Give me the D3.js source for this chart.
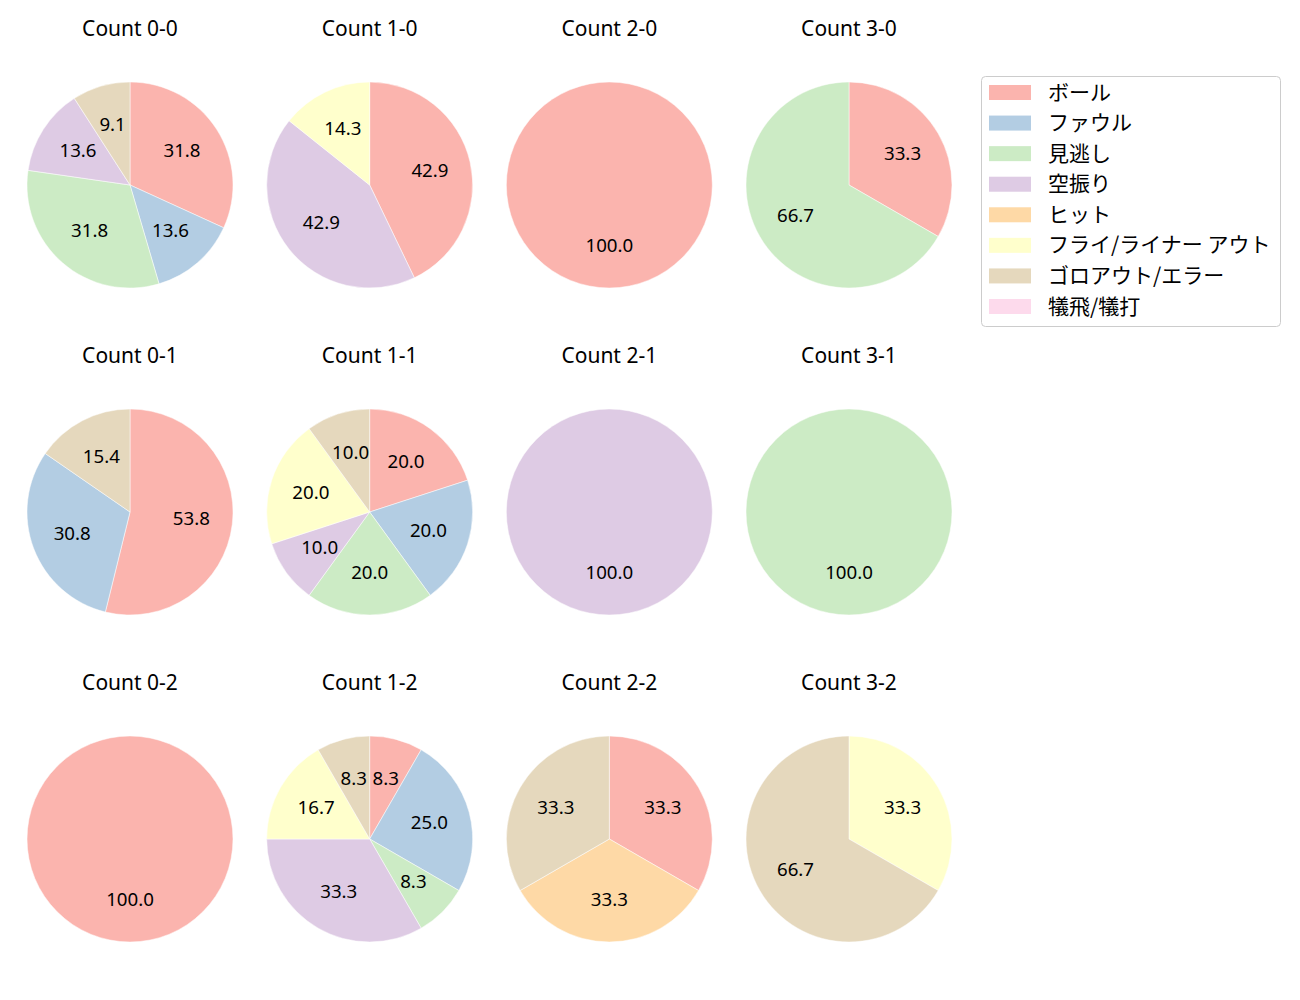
<!DOCTYPE html>
<html><head><meta charset="utf-8">
<script src="https://cdn.jsdelivr.net/npm/d3@7"></script>
<style>body{margin:0;background:#fff}svg{display:block}text{fill:#000}
.lat{font-family:"Noto Sans",sans-serif}.jp{font-family:"Noto Sans CJK JP","Noto Sans",sans-serif}</style>
</head><body><div id="chart"></div>
<script>
const categories = ["ボール","ファウル","見逃し","空振り","ヒット","フライ/ライナー アウト","ゴロアウト/エラー","犠飛/犠打"];
const colors = ["#fbb4ae","#b3cde3","#ccebc5","#decbe4","#fed9a6","#ffffcc","#e5d8bd","#fddaec"];
const titles = ["Count 0-0","Count 1-0","Count 2-0","Count 3-0","Count 0-1","Count 1-1","Count 2-1","Count 3-1","Count 0-2","Count 1-2","Count 2-2","Count 3-2"];
// counts per category (same order as categories)
const c00 = [7,3,7,3,0,0,2,0];
const c10 = [3,0,0,3,0,1,0,0];
const c20 = [1,0,0,0,0,0,0,0];
const c30 = [1,0,2,0,0,0,0,0];
const c01 = [7,4,0,0,0,0,2,0];
const c11 = [2,2,2,1,0,2,1,0];
const c21 = [0,0,0,1,0,0,0,0];
const c31 = [0,0,1,0,0,0,0,0];
const c02 = [1,0,0,0,0,0,0,0];
const c12 = [1,3,1,4,0,2,1,0];
const c22 = [1,0,0,0,1,0,1,0];
const c32 = [0,0,0,0,0,1,2,0];
const allCounts = [c00,c10,c20,c30,c01,c11,c21,c31,c02,c12,c22,c32];

const W=1300,H=1000;
const svg=d3.select("#chart").append("svg").attr("width",W).attr("height",H);
const colX=d3.scalePoint().domain([0,1,2,3]).range([130,849]);
const rowY=d3.scalePoint().domain([0,1,2]).range([185,839]);
const R=103;
const pie=d3.pie().sort(null).value(d=>d.v);
const arc=d3.arc().innerRadius(0).outerRadius(R);
const labelArc=d3.arc().innerRadius(R*0.6).outerRadius(R*0.6);

allCounts.forEach((counts,i)=>{
  const col=i%4,row=Math.floor(i/4);
  const cx=colX(col),cy=rowY(row);
  const total=d3.sum(counts);
  const data=counts.map((v,k)=>({v,k})).filter(d=>d.v>0);
  const g=svg.append("g").attr("transform",`translate(${cx},${cy})`);
  const arcs=pie(data);
  g.selectAll("path").data(arcs).join("path").attr("d",arc)
    .attr("fill",d=>colors[d.data.k]).attr("stroke","#fff").attr("stroke-width",0.5);
  g.selectAll("text.lbl").data(arcs).join("text").attr("class","lbl lat")
    .attr("transform",d=>`translate(${labelArc.centroid(d)})`)
    .attr("text-anchor","middle").attr("dy","0.3em")
    .style("font-size","18.7px")
    .text(d=>(d.data.v/total*100).toFixed(1));
  svg.append("text").attr("class","lat").attr("x",cx).attr("y",cy-149).attr("text-anchor","middle")
    .style("font-size","21px").text(titles[i]);
});

// legend
const lg=svg.append("g");
lg.append("rect").attr("x",981.5).attr("y",76.5).attr("width",299).attr("height",250)
  .attr("rx",4).attr("fill","#fff").attr("stroke","#cccccc");
const ly=d3.scalePoint().domain(d3.range(categories.length)).range([92,306]);
categories.forEach((c,k)=>{
  lg.append("rect").attr("x",989).attr("y",ly(k)-7).attr("width",42).attr("height",15).attr("fill",colors[k]);
  lg.append("text").attr("class","jp").attr("x",1048).attr("y",ly(k)-1.5).attr("dominant-baseline","central")
    .style("font-size","21px").text(c);
});
</script></body></html>
